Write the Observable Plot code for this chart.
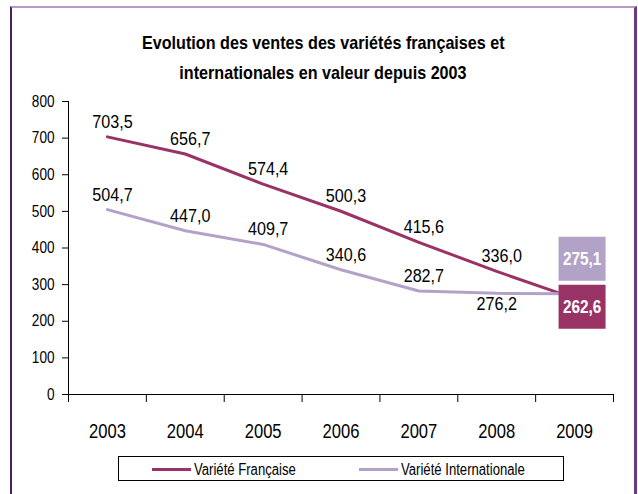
<!DOCTYPE html>
<html>
<head>
<meta charset="utf-8">
<script src="https://cdn.jsdelivr.net/npm/d3@7"></script>
<script src="https://cdn.jsdelivr.net/npm/@observablehq/plot@0.6"></script>
<style>
  html, body { margin: 0; padding: 0; background: #fff; }
  #page { position: relative; width: 638px; height: 494px; overflow: hidden; background: #fff;
          font-family: "Liberation Sans", Arial, sans-serif; }
  #frame { position: absolute; left: 10px; top: 6px; width: 622px; height: 520px;
           border-left: 2px solid #4b2060; border-top: 2px solid #b49ac8; border-right: 3px solid #6a3a86; }
  #title { position: absolute; left: 12px; width: 622px; top: 28px; text-align: center;
           font-weight: bold; font-size: 19px; line-height: 30px; color: #000; }
  #title span { display: inline-block; transform: scaleX(0.85); transform-origin: center; white-space: nowrap; }
  #chart { position: absolute; left: 0; top: 80px; }
  #legend { position: absolute; left: 118px; top: 456px; width: 444px; height: 23px;
            border: 1px solid #000; font-size: 16px; color: #000; }
  .item { position: absolute; top: 0; height: 23px; line-height: 23px; white-space: nowrap; }
  .sw { display: inline-block; width: 39px; height: 3px; vertical-align: middle; margin-right: 3px; }
  .lt { display: inline-block; transform: scaleX(0.82); transform-origin: left center; vertical-align: middle; }
</style>
</head>
<body>
<div id="page">
  <div id="frame"></div>
  <div id="title"><span>Evolution des ventes des variétés françaises et</span><br><span>internationales en valeur depuis 2003</span></div>
  <div id="chart"></div>
  <div id="legend"></div>
</div>
<script>
const years = [2003, 2004, 2005, 2006, 2007, 2008, 2009];
const francaise = [703.5, 656.7, 574.4, 500.3, 415.6, 336.0, 262.6];
const internationale = [504.7, 447.0, 409.7, 340.6, 282.7, 276.2, 275.1];
const yTicks = [0, 100, 200, 300, 400, 500, 600, 700, 800];
const seriesNames = ["Variété Française", "Variété Internationale"];
const seriesColors = ["#993366", "#b3a2c7"];

const font = '"Liberation Sans", Arial, sans-serif';
const rows = [
  ...years.map((year, i) => ({year, value: francaise[i], serie: seriesNames[0]})),
  ...years.map((year, i) => ({year, value: internationale[i], serie: seriesNames[1]}))
];
const lastYear = years[years.length - 1];
const xDomain = [years[0] - 0.5, lastYear + 0.5];
const boundaries = [...years.map(y => y - 0.5), lastYear + 0.5];
const fmt = v => v.toFixed(1).replace(".", ",");

const inner = rows.filter(d => d.year !== lastYear);
const isBelow = d => d.serie === seriesNames[1] && d.year === 2008;
const last = rows.filter(d => d.year === lastYear);
const lastF = last.filter(d => d.serie === seriesNames[0]);
const lastI = last.filter(d => d.serie === seriesNames[1]);

const boxSymbol = {draw(ctx) { ctx.rect(-23.5, -22, 47, 44); }};

const plot = Plot.plot({
  width: 638, height: 380,
  marginTop: 21, marginBottom: 66, marginLeft: 68, marginRight: 25,
  style: {fontFamily: font, fontSize: "16px", color: "#000", background: "transparent"},
  x: {domain: xDomain},
  y: {domain: [0, 800]},
  color: {domain: seriesNames, range: seriesColors},
  marks: [
    Plot.axisY({ticks: yTicks, tickSize: 6, tickPadding: 8, tickFormat: d => String(d), label: null, fontSize: 16}),
    Plot.axisX({ticks: boundaries, tickSize: 8, tickFormat: () => "", label: null}),
    Plot.axisX({ticks: years, tickSize: 0, tickPadding: 30, tickFormat: d => String(d), label: null, fontSize: 19.5}),
    Plot.ruleY([0], {stroke: "#000", strokeWidth: 1}),
    Plot.ruleX([xDomain[0]], {stroke: "#000", strokeWidth: 1}),
    Plot.line(rows, {x: "year", y: "value", z: "serie", stroke: "serie", strokeWidth: 3}),
    Plot.text(inner.filter(d => !isBelow(d)), {x: "year", y: "value", text: d => fmt(d.value), dx: 5, dy: -9, lineAnchor: "bottom", fontSize: 19, fill: "#000"}),
    Plot.text(inner.filter(isBelow), {x: "year", y: "value", text: d => fmt(d.value), dx: 0, dy: 3, lineAnchor: "top", fontSize: 19, fill: "#000"}),
    Plot.dot(lastI, {x: "year", y: "value", symbol: boxSymbol, fill: "serie", stroke: null, dx: 7.5, dy: -35}),
    Plot.dot(lastF, {x: "year", y: "value", symbol: boxSymbol, fill: "serie", stroke: null, dx: 7.5, dy: 8.5}),
    Plot.text(lastI, {x: "year", y: "value", text: d => fmt(d.value), dx: 7.5, dy: -35, fill: "#fff", fontWeight: "bold", fontSize: 18}),
    Plot.text(lastF, {x: "year", y: "value", text: d => fmt(d.value), dx: 7.5, dy: 8.5, fill: "#fff", fontWeight: "bold", fontSize: 18})
  ]
});

// condense text horizontally (the original uses a condensed typeface)
const sx = 0.85;
plot.querySelectorAll("text").forEach(t => {
  let shift = "";
  const xa = t.getAttribute("x");
  if (xa !== null && xa !== "" && !isNaN(+xa)) {
    shift = ` translate(${+xa},0)`;
    t.removeAttribute("x");
  }
  const tr = t.getAttribute("transform") || "";
  t.setAttribute("transform", `${tr}${shift} scale(${sx},1)`);
});
document.getElementById("chart").appendChild(plot);

const legend = document.getElementById("legend");
const legendLefts = [33, 240];
seriesNames.forEach((name, i) => {
  const item = document.createElement("div");
  item.className = "item";
  item.style.left = legendLefts[i] + "px";
  const sw = document.createElement("span");
  sw.className = "sw";
  sw.style.background = seriesColors[i];
  item.appendChild(sw);
  const lt = document.createElement("span");
  lt.className = "lt";
  lt.textContent = name;
  item.appendChild(lt);
  legend.appendChild(item);
});
</script>
</body>
</html>
